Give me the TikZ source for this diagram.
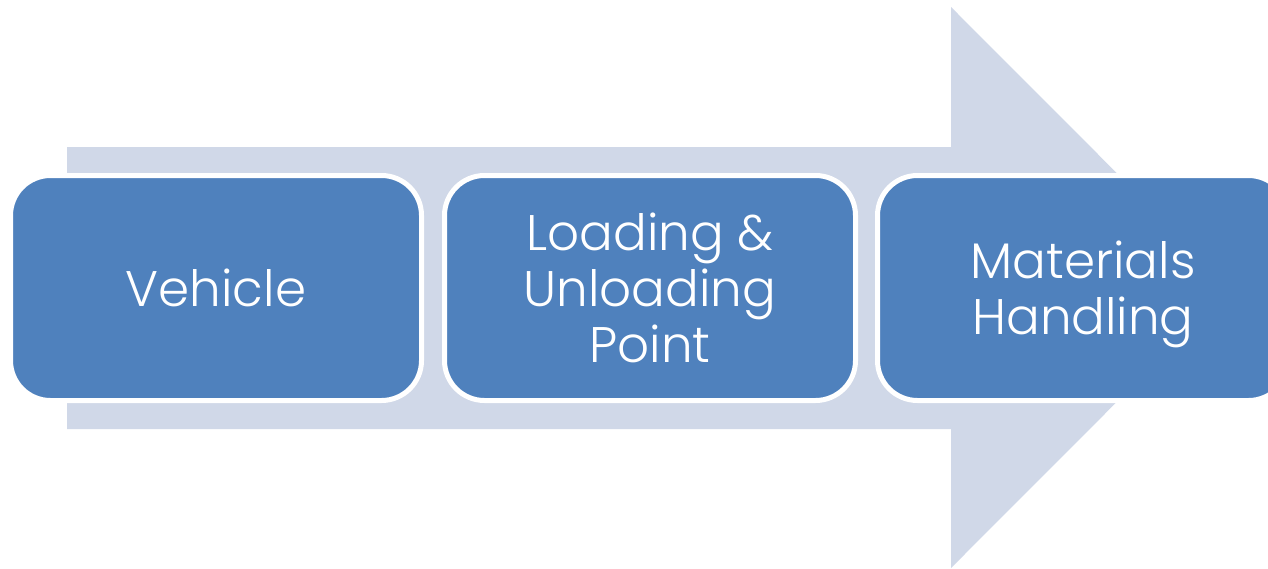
\documentclass[tikz,border=0pt]{standalone}
\usepackage{fontspec}
\setmainfont{Poppins}[UprightFont={* Light}]
\definecolor{boxblue}{RGB}{79,129,189}
\definecolor{arrowgrey}{RGB}{208,216,232}
\begin{document}
\begin{tikzpicture}[x=1pt,y=-1pt,
  stepbox/.style={draw=white, line width=5pt, fill=boxblue, rounded corners=40pt,
    minimum width=411pt, minimum height=225pt, inner sep=0pt, text=white,
    text depth=0pt, align=center, font=\fontsize{50}{56}\selectfont}]
\useasboundingbox (0,0) rectangle (1268,568);
\begin{scope}
\clip (0,0) rectangle (1268,568);
\fill[arrowgrey] (67,147) -- (951,147) -- (951,7) -- (1231,287.5) -- (951,568) -- (951,429) -- (67,429) -- cycle;
\node[stepbox] (veh) at (216,288) {Vehicle};
\node[stepbox] (load) at (650,288) {Loading \&\\Unloading\\Point};
\node[stepbox] (mat) at (1083,288) {Materials\\Handling};
\end{scope}
\end{tikzpicture}
\end{document}
